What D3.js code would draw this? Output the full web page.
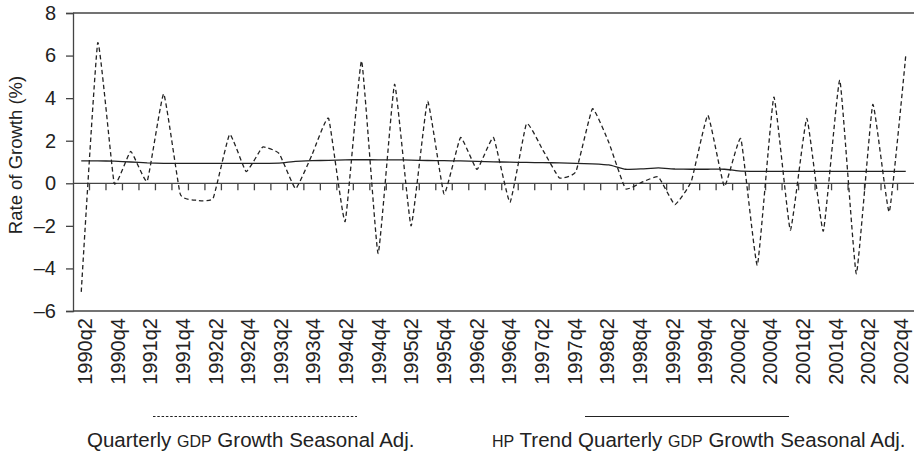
<!DOCTYPE html>
<html>
<head>
<meta charset="utf-8">
<script src="https://cdn.jsdelivr.net/npm/d3@7/dist/d3.min.js"></script>
<style>
  body { margin: 0; background: #fff; }
  text { font-family: "Liberation Sans", Arial, sans-serif; fill: #222; }
</style>
</head>
<body>
<div id="chart"></div>
<script>
var quarters = [
  "1990q2","1990q3","1990q4","1991q1","1991q2","1991q3","1991q4","1992q1","1992q2","1992q3",
  "1992q4","1993q1","1993q2","1993q3","1993q4","1994q1","1994q2","1994q3","1994q4","1995q1",
  "1995q2","1995q3","1995q4","1996q1","1996q2","1996q3","1996q4","1997q1","1997q2","1997q3",
  "1997q4","1998q1","1998q2","1998q3","1998q4","1999q1","1999q2","1999q3","1999q4","2000q1",
  "2000q2","2000q3","2000q4","2001q1","2001q2","2001q3","2001q4","2002q1","2002q2","2002q3",
  "2002q4"
];
var growth = [
  -5.1, 6.6, 0.0, 1.5, 0.1, 4.2, -0.5, -0.8, -0.7, 2.3,
  0.55, 1.7, 1.4, -0.25, 1.35, 3.05, -1.8, 5.75, -3.3, 4.65,
  -2.0, 3.85, -0.5, 2.15, 0.65, 2.15, -0.9, 2.8, 1.55, 0.25,
  0.55, 3.5, 1.9, -0.25, 0.05, 0.3, -1.0, 0.1, 3.2, -0.15,
  2.1, -3.85, 4.05, -2.2, 3.05, -2.25, 4.85, -4.25, 3.7, -1.35,
  6.0
];
var trend = [
  1.05, 1.05, 1.04, 1.0, 0.96, 0.94, 0.94, 0.94, 0.94, 0.94,
  0.94, 0.94, 0.95, 1.03, 1.06, 1.08, 1.1, 1.11, 1.1, 1.1,
  1.09, 1.07, 1.06, 1.05, 1.03, 1.01, 0.99, 0.98, 0.97, 0.96,
  0.94, 0.91, 0.86, 0.66, 0.68, 0.72, 0.67, 0.66, 0.66, 0.66,
  0.57, 0.56, 0.56, 0.56, 0.56, 0.56, 0.56, 0.56, 0.56, 0.56,
  0.56
];
var yTicks = [-6, -4, -2, 0, 2, 4, 6, 8];
var legendLabels = [
  ["", "Quarterly ", "GDP", " Growth Seasonal Adj."],
  ["HP", " Trend Quarterly ", "GDP", " Growth Seasonal Adj."]
];

var W = 914, H = 455;
var margin = {top: 13, right: 0, bottom: 144, left: 73};

var svg = d3.select("#chart").append("svg")
    .attr("width", W).attr("height", H);

var x = d3.scaleBand().domain(quarters)
    .range([margin.left, W - margin.right]).padding(0);
var y = d3.scaleLinear().domain([-6, 8])
    .range([H - margin.bottom, margin.top]);

var axisColor = "#444";

// frame lines at top and bottom of the value range
[8, -6].forEach(function(v) {
  svg.append("line")
    .attr("x1", margin.left).attr("x2", W)
    .attr("y1", y(v)).attr("y2", y(v))
    .attr("stroke", axisColor).attr("stroke-width", 1.3);
});

// y axis
var yAxis = svg.append("g")
    .attr("transform", "translate(" + margin.left + ",0)")
    .call(d3.axisLeft(y).tickValues(yTicks).tickSize(7).tickPadding(10)
      .tickFormat(function(d) { return d < 0 ? "\u2013" + Math.abs(d) : d; }));
yAxis.select(".domain").attr("stroke", axisColor).attr("stroke-width", 1.3);
yAxis.selectAll(".tick line").attr("stroke", axisColor).attr("stroke-width", 1.3);
yAxis.selectAll(".tick text")
    .style("font-size", "20px").attr("fill", "#222")
    .style("font-family", "'Liberation Sans', Arial, sans-serif");

svg.append("text")
    .attr("transform", "translate(22," + ((margin.top + H - margin.bottom) / 2 - 7) + ") rotate(-90)")
    .attr("text-anchor", "middle")
    .style("font-size", "18.5px")
    .text("Rate of Growth (%)");

// category axis at zero
var zeroY = y(0);
svg.append("line")
    .attr("x1", margin.left).attr("x2", W)
    .attr("y1", zeroY).attr("y2", zeroY)
    .attr("stroke", axisColor).attr("stroke-width", 1.3);
svg.append("g").selectAll("line")
  .data(quarters.slice(1))
  .enter().append("line")
    .attr("x1", function(d) { return x(d); })
    .attr("x2", function(d) { return x(d); })
    .attr("y1", zeroY).attr("y2", zeroY + 7)
    .attr("stroke", axisColor).attr("stroke-width", 1.3);

// category labels, every second quarter
var labelX = d3.scaleLinear().domain([0, quarters.length - 1]).range([92, 908]);
svg.append("g").selectAll("text")
  .data(quarters.filter(function(d, i) { return i % 2 === 0; }))
  .enter().append("text")
    .attr("transform", function(d) {
      return "translate(" + labelX(quarters.indexOf(d)) + "," + (H - margin.bottom + 7) + ") rotate(-90)";
    })
    .attr("text-anchor", "end")
    .style("font-size", "20px")
    .text(function(d) { return d; });

var cx = function(d, i) { return x(quarters[i]) + x.bandwidth() / 2; };

var line = d3.line()
    .x(cx)
    .y(function(d) { return y(d); })
    .curve(d3.curveCardinal.tension(0.65));

svg.append("path")
    .datum(growth)
    .attr("d", line)
    .attr("fill", "none")
    .attr("stroke", "#222")
    .attr("stroke-width", 1.3)
    .attr("stroke-dasharray", "4.5,3");

svg.append("path")
    .datum(trend)
    .attr("d", line)
    .attr("fill", "none")
    .attr("stroke", "#222")
    .attr("stroke-width", 1.3);

// legend
var legendX = [[153, 357, 87], [585, 789, 492]];
legendLabels.forEach(function(parts, k) {
  svg.append("line")
    .attr("x1", legendX[k][0]).attr("x2", legendX[k][1])
    .attr("y1", 416.5).attr("y2", 416.5)
    .attr("stroke", "#222").attr("stroke-width", 1.2)
    .attr("stroke-dasharray", k === 0 ? "2.5,1.8" : null);
  var t = svg.append("text")
    .attr("x", legendX[k][2]).attr("y", 446.5)
    .style("font-size", "20.5px");
  parts.forEach(function(p, j) {
    if (!p) return;
    t.append("tspan")
      .style("font-size", (j === 0 || j === 2) ? "16px" : "20.5px")
      .text(p);
  });
});
</script>
</body>
</html>
